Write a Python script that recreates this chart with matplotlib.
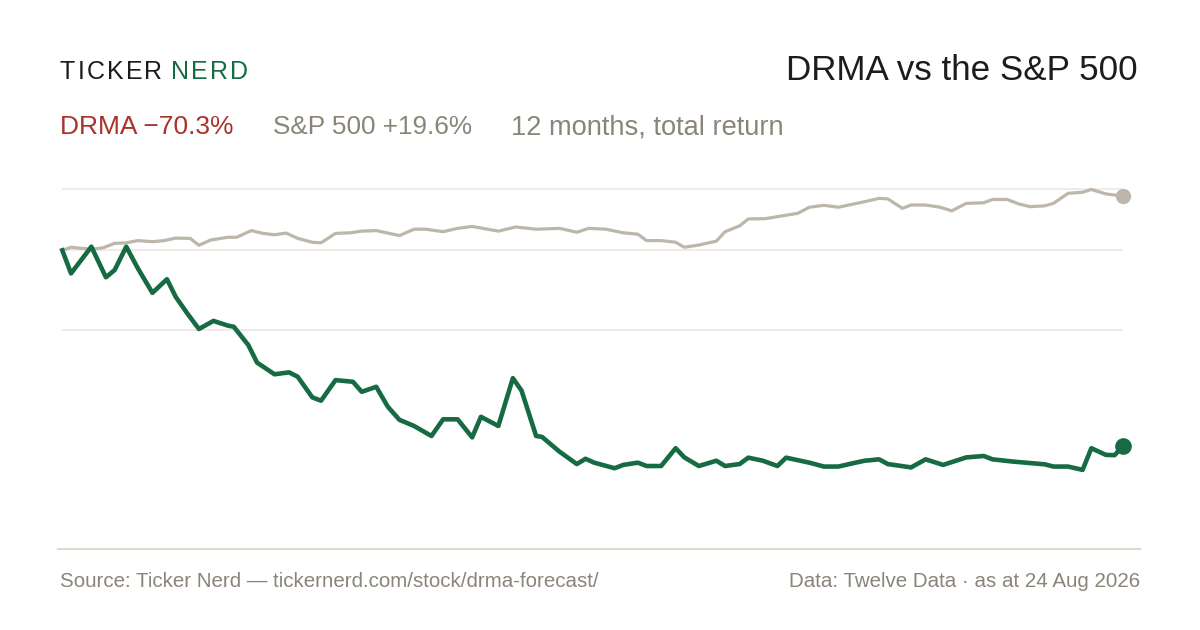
import matplotlib
matplotlib.use('Agg')
import matplotlib.pyplot as plt
import pandas as pd

plt.rcParams['font.family'] = ['Liberation Sans', 'DejaVu Sans']

# 12 months of total return, in % from the start date
start = pd.Timestamp('2025-08-24')

drma_days = [0, 3, 10, 15, 18, 22, 26, 31, 36, 39, 43, 47, 52, 57, 59, 64, 67, 73, 78, 81,
             86, 89, 94, 100, 103, 108, 112, 116, 121, 127, 131, 136, 141, 144, 150, 155, 158,
             163, 165, 171, 177, 180, 183, 190, 193, 198, 201, 206, 211, 214, 219, 225, 228,
             233, 236, 241, 246, 249, 257, 262, 267, 272, 276, 281, 284, 292, 297, 303, 311,
             317, 320, 327, 338, 341, 346, 351, 354, 359, 362, 365]
drma_ret = [0, -8.3, 1.3, -9.7, -7.1, 1.3, -6.5, -15.3, -10.4, -16.7, -22.7, -28.3, -25.4,
            -27.1, -27.5, -34.1, -40.4, -44.6, -43.9, -45.5, -52.9, -54.1, -46.7, -47.3, -50.9,
            -49.1, -56.3, -61.0, -63.2, -66.8, -60.8, -60.8, -67.3, -59.9, -63.2, -46.0, -50.5,
            -66.8, -67.1, -72.4, -76.9, -75.0, -76.4, -78.4, -77.2, -76.4, -77.6, -77.6, -71.2,
            -74.5, -77.6, -75.7, -77.6, -76.9, -74.6, -75.7, -77.6, -74.6, -76.4, -77.8, -77.8,
            -76.6, -75.7, -75.2, -76.9, -78.1, -75.2, -77.2, -74.5, -74.0, -75.2, -76.0, -77.0,
            -77.8, -77.8, -79.0, -71.2, -73.6, -73.7, -70.3]

spx_days = [0, 3, 7, 10, 14, 18, 22, 26, 31, 35, 39, 44, 47, 51, 57, 60, 65, 69, 73, 77, 81,
            86, 89, 94, 99, 103, 108, 116, 121, 125, 131, 136, 141, 150, 156, 163, 171, 177,
            181, 187, 193, 198, 201, 206, 211, 214, 219, 225, 228, 233, 236, 242, 247, 253,
            257, 262, 267, 276, 281, 284, 289, 292, 297, 302, 306, 311, 317, 320, 325, 329,
            333, 338, 341, 346, 351, 354, 359, 362, 365]
spx_ret = [0, 1.1, 0.7, 0.4, 0.9, 2.5, 2.7, 3.5, 3.1, 3.5, 4.4, 4.3, 1.8, 3.7, 4.7, 4.7, 7.1,
           6.1, 5.6, 6.2, 4.3, 2.9, 2.7, 6.1, 6.3, 6.9, 7.1, 5.3, 7.6, 7.6, 6.7, 7.9, 8.6, 6.9,
           8.4, 7.6, 7.9, 6.5, 7.9, 7.6, 6.3, 5.8, 3.5, 3.5, 2.9, 1.1, 1.9, 3.3, 6.7, 8.8, 11.3,
           11.4, 12.3, 13.3, 15.5, 16.2, 15.5, 17.5, 18.7, 18.5, 15.1, 16.3, 16.3, 15.5, 14.2,
           16.9, 17.1, 18.3, 18.3, 16.7, 15.7, 16.0, 16.9, 20.5, 20.9, 21.9, 20.3, 19.9, 19.6]

drma_dates = start + pd.to_timedelta(drma_days, unit='D')
spx_dates = start + pd.to_timedelta(spx_days, unit='D')

GREEN = '#176b43'
SPX = '#bdb6aa'
RED = '#a8322d'
MUTED = '#8a8578'
INK = '#1c1c1c'
GRID = '#ece9e3'

W, H = 1200, 630
fig = plt.figure(figsize=(W / 100, H / 100), dpi=100)
fig.patch.set_facecolor('white')

# plot area: left 62, right 1123, top 170, bottom 548 (pixels)
ax = fig.add_axes([62.3 / W, 1 - 548 / H, (1123.3 - 62.3) / W, (548 - 170) / H])
ax.set_xlim(start, start + pd.Timedelta(days=365))
ax.set_ylim(-107.1, 28.9)
ax.axis('off')

# grid: top of data, zero, midpoint between top and bottom of data
hi = max(max(drma_ret), max(spx_ret))
lo = min(min(drma_ret), min(spx_ret))
for yv in [hi, 0, (hi + lo) / 2]:
    ax.axhline(yv, color=GRID, lw=1.2, zorder=0)

ax.plot(spx_dates, spx_ret, color=SPX, lw=2.3, zorder=2, clip_on=False)
ax.plot(drma_dates, drma_ret, color=GREEN, lw=3.3, zorder=3, clip_on=False)
ax.plot(spx_dates[-1], spx_ret[-1], 'o', color=SPX, ms=10, zorder=4, clip_on=False)
ax.plot(drma_dates[-1], drma_ret[-1], 'o', color=GREEN, ms=11, zorder=4, clip_on=False)

# bottom rule
fig.add_artist(plt.Line2D([58 / W, 1140 / W], [1 - 548.5 / H] * 2, color='#dedace', lw=1.5))


def px(x, y):
    return x / W, 1 - y / H


# logo with letter spacing
fig.canvas.draw()
renderer = fig.canvas.get_renderer()
x = 60
for word, col in [('TICKER', INK), ('NERD', GREEN)]:
    for ch in word:
        t = fig.text(*px(x, 79), ch, fontsize=18, color=col, va='baseline', ha='left')
        x += t.get_window_extent(renderer).width + 2.2
    x += 6

fig.text(*px(1138, 80), 'DRMA vs the S&P 500', fontsize=25.2, color=INK, ha='right', va='baseline')

fig.text(*px(60, 134), 'DRMA \u221270.3%', fontsize=19, color=RED, va='baseline')
fig.text(*px(273, 134), 'S&P 500 +19.6%', fontsize=18.8, color=MUTED, va='baseline')
fig.text(*px(511, 134), '12 months, total return', fontsize=19.6, color=MUTED, va='baseline')

fig.text(*px(60, 587), 'Source: Ticker Nerd \u2014 tickernerd.com/stock/drma-forecast/',
         fontsize=14.8, color=MUTED, va='baseline')
fig.text(*px(1140, 587), 'Data: Twelve Data \u00b7 as at 24 Aug 2026',
         fontsize=14.8, color=MUTED, va='baseline', ha='right')

fig.savefig('out.png', dpi=100, facecolor='white')
